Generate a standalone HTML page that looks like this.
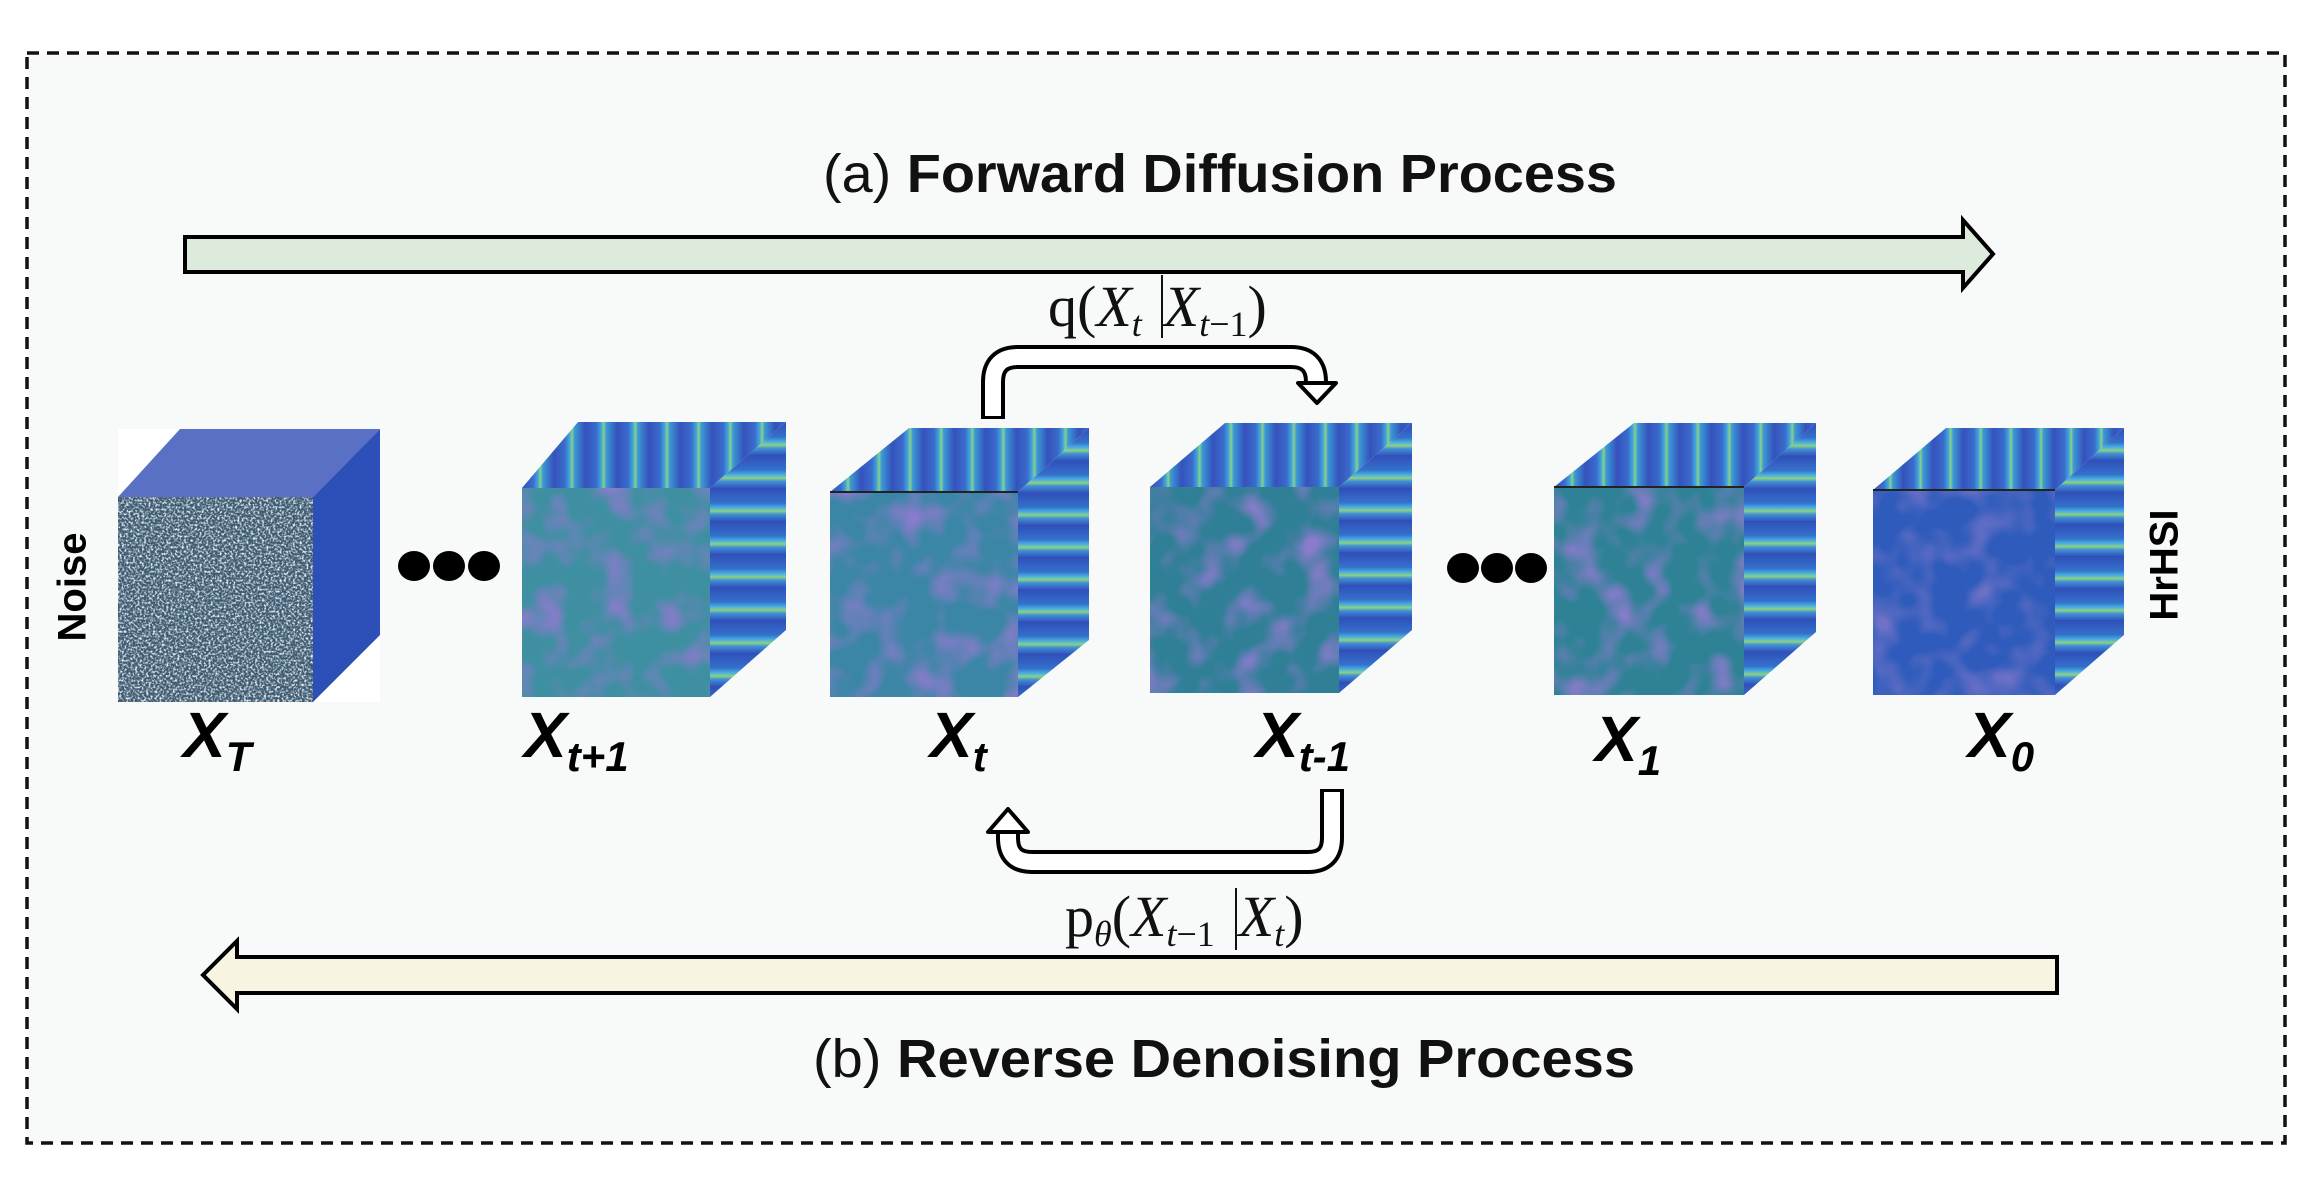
<!DOCTYPE html>
<html><head><meta charset="utf-8"><style>
html,body{margin:0;padding:0;background:#fff;width:2313px;height:1187px;overflow:hidden}
svg{display:block}
.lab{font-family:"Liberation Sans",sans-serif;font-weight:bold;font-style:italic;fill:#000}
.mth{font-family:"Liberation Serif",serif;fill:#111}
</style></head><body>
<svg width="2313" height="1187" viewBox="0 0 2313 1187" xmlns="http://www.w3.org/2000/svg">
<defs>
  <filter id="nz" x="0" y="0" width="1" height="1">
    <feTurbulence type="fractalNoise" baseFrequency="0.45" numOctaves="2" seed="3"/>
    <feColorMatrix type="matrix" values="0 0 0 0 0.85  0 0 0 0 0.9  0 0 0 0 0.95  0 0 0 3 -1.3"/>
  </filter>
  <filter id="nz2" x="0" y="0" width="1" height="1">
    <feTurbulence type="fractalNoise" baseFrequency="0.03" numOctaves="2" seed="7"/>
    <feColorMatrix type="matrix" values="0 0 0 0 0.25  0 0 0 0 0.2  0 0 0 0 0.6  0 0 0 2.5 -1.1"/>
  </filter>
  <linearGradient id="top" x1="0" y1="0" x2="0.12" y2="0" spreadMethod="repeat">
    <stop offset="0" stop-color="#3552bc"/><stop offset="0.35" stop-color="#3a6ccc"/>
    <stop offset="0.5" stop-color="#3fa6dc"/><stop offset="0.58" stop-color="#8ccf86"/>
    <stop offset="0.66" stop-color="#3a9ad6"/><stop offset="1" stop-color="#3552bc"/>
  </linearGradient>
  <linearGradient id="side" x1="0" y1="0" x2="0" y2="0.12" spreadMethod="repeat">
    <stop offset="0" stop-color="#2f4fb8"/><stop offset="0.45" stop-color="#3570cc"/>
    <stop offset="0.6" stop-color="#48b0e0"/><stop offset="0.7" stop-color="#8ed083"/>
    <stop offset="0.8" stop-color="#3f90d6"/><stop offset="1" stop-color="#3455bc"/>
  </linearGradient>
</defs>
<rect x="27" y="53" width="2258" height="1090" fill="#f8faf9" stroke="#111" stroke-width="3.5" stroke-dasharray="12 8"/>

<text x="823" y="192" font-family="Liberation Sans,sans-serif" font-size="54" fill="#111" textLength="794" lengthAdjust="spacingAndGlyphs">(a) <tspan font-weight="bold">Forward Diffusion Process</tspan></text>
<text x="813" y="1077" font-family="Liberation Sans,sans-serif" font-size="54" fill="#111" textLength="822" lengthAdjust="spacingAndGlyphs">(b) <tspan font-weight="bold">Reverse Denoising Process</tspan></text>

<polygon points="185,237 1963,237 1963,220 1993,254 1963,288 1963,272 185,272" fill="#dcebdc" stroke="#000" stroke-width="4"/>
<polygon points="2057,957 237,957 237,941 203,975 237,1009 237,993 2057,993" fill="#f7f5e2" stroke="#000" stroke-width="4"/>

<path d="M993,419 L993,382 Q993,357 1018,357 L1291,357 Q1316,357 1316,382 L1316,386" fill="none" stroke="#000" stroke-width="24"/>
<path d="M993,416 L993,382 Q993,357 1018,357 L1291,357 Q1316,357 1316,382 L1316,388" fill="none" stroke="#fff" stroke-width="16"/>
<polygon points="1298,383 1336,383 1317,403" fill="#fff" stroke="#000" stroke-width="4" stroke-linejoin="round"/>
<path d="M1332,789 L1332,838 Q1332,862 1308,862 L1032,862 Q1008,862 1008,838 L1008,830" fill="none" stroke="#000" stroke-width="24"/>
<path d="M1332,792 L1332,838 Q1332,862 1308,862 L1032,862 Q1008,862 1008,838 L1008,828" fill="none" stroke="#fff" stroke-width="16"/>
<polygon points="988,832 1028,832 1008,809" fill="#fff" stroke="#000" stroke-width="4" stroke-linejoin="round"/>

<text class="mth" x="1048" y="326" font-size="58">q(<tspan font-style="italic">X</tspan><tspan font-style="italic" font-size="36" dy="10">t</tspan><tspan dy="-10" dx="22" font-style="italic">X</tspan><tspan font-style="italic" font-size="36" dy="10">t</tspan><tspan font-size="36">−1</tspan><tspan dy="-10">)</tspan></text>
<line x1="1162" y1="275" x2="1162" y2="338" stroke="#111" stroke-width="2"/>
<text class="mth" x="1065" y="936" font-size="58">p<tspan font-style="italic" font-size="36" dy="10">θ</tspan><tspan dy="-10">(</tspan><tspan font-style="italic">X</tspan><tspan font-style="italic" font-size="36" dy="10">t</tspan><tspan font-size="36">−1</tspan><tspan dy="-10" dx="24" font-style="italic">X</tspan><tspan font-style="italic" font-size="36" dy="10">t</tspan><tspan dy="-10">)</tspan></text>
<line x1="1236" y1="888" x2="1236" y2="950" stroke="#111" stroke-width="2"/>

<rect x="118" y="429" width="262" height="273" fill="#fff"/>
<polygon points="118,497 180,429 380,429 313,497" fill="#5a70c4"/>
<polygon points="313,497 380,429 380,635 313,702" fill="#2d4fb8"/>
<rect x="118" y="497" width="195" height="205" fill="#3d5a70"/>
<rect x="118" y="497" width="195" height="205" filter="url(#nz)"/>

<polygon points="522,488 578,422 786,422 710,488" fill="url(#top)"/>
<polygon points="710,488 786,422 786,630 710,697" fill="url(#side)"/>
<rect x="522" y="488" width="188" height="209" fill="#3f8fa2"/>
<rect x="522" y="488" width="188" height="209" filter="url(#nz2)"/>

<polygon points="830,492 909,428 1089,428 1018,492" fill="url(#top)"/>
<polygon points="1018,492 1089,428 1089,640 1018,697" fill="url(#side)"/>
<rect x="830" y="492" width="188" height="205" fill="#3b86a6"/>
<rect x="830" y="492" width="188" height="205" filter="url(#nz2)"/>
<line x1="830" y1="492" x2="1018" y2="492" stroke="#222" stroke-width="2"/>

<polygon points="1150,487 1225,423 1412,423 1339,487" fill="url(#top)"/>
<polygon points="1339,487 1412,423 1412,630 1339,693" fill="url(#side)"/>
<rect x="1150" y="487" width="189" height="206" fill="#2f7f96"/>
<rect x="1150" y="487" width="189" height="206" filter="url(#nz2)"/>

<polygon points="1554,487 1634,423 1816,423 1744,487" fill="url(#top)"/>
<polygon points="1744,487 1816,423 1816,632 1744,695" fill="url(#side)"/>
<rect x="1554" y="487" width="190" height="208" fill="#2f8296"/>
<rect x="1554" y="487" width="190" height="208" filter="url(#nz2)"/>
<line x1="1554" y1="487" x2="1744" y2="487" stroke="#222" stroke-width="2"/>

<polygon points="1873,490 1946,428 2124,428 2055,490" fill="url(#top)"/>
<polygon points="2055,490 2124,428 2124,635 2055,695" fill="url(#side)"/>
<rect x="1873" y="490" width="182" height="205" fill="#2f5cbc"/>
<rect x="1873" y="490" width="182" height="205" filter="url(#nz2)" opacity="0.7"/>
<line x1="1873" y1="490" x2="2055" y2="490" stroke="#222" stroke-width="2"/>

<g fill="#000">
<ellipse cx="414" cy="566" rx="16" ry="15"/><ellipse cx="449" cy="566" rx="16" ry="15"/><ellipse cx="484" cy="566" rx="16" ry="15"/>
<ellipse cx="1463" cy="568" rx="16" ry="15"/><ellipse cx="1497" cy="568" rx="16" ry="15"/><ellipse cx="1531" cy="568" rx="16" ry="15"/>
</g>

<text x="75" y="587" transform="rotate(-90 75 587)" text-anchor="middle" dominant-baseline="middle" font-family="Liberation Sans,sans-serif" font-weight="bold" font-size="40">Noise</text>
<text x="2167" y="565" transform="rotate(-90 2167 565)" text-anchor="middle" dominant-baseline="middle" font-family="Liberation Sans,sans-serif" font-weight="bold" font-size="40">HrHSI</text>

<text class="lab" x="183" y="757" font-size="64">X<tspan font-size="42" dy="14">T</tspan></text>
<text class="lab" x="524" y="757" font-size="64">X<tspan font-size="42" dy="14">t+1</tspan></text>
<text class="lab" x="930" y="757" font-size="64">X<tspan font-size="42" dy="14">t</tspan></text>
<text class="lab" x="1256" y="757" font-size="64">X<tspan font-size="42" dy="14">t-1</tspan></text>
<text class="lab" x="1595" y="761" font-size="64">X<tspan font-size="42" dy="14">1</tspan></text>
<text class="lab" x="1968" y="757" font-size="64">X<tspan font-size="42" dy="14">0</tspan></text>
</svg>
</body></html>
